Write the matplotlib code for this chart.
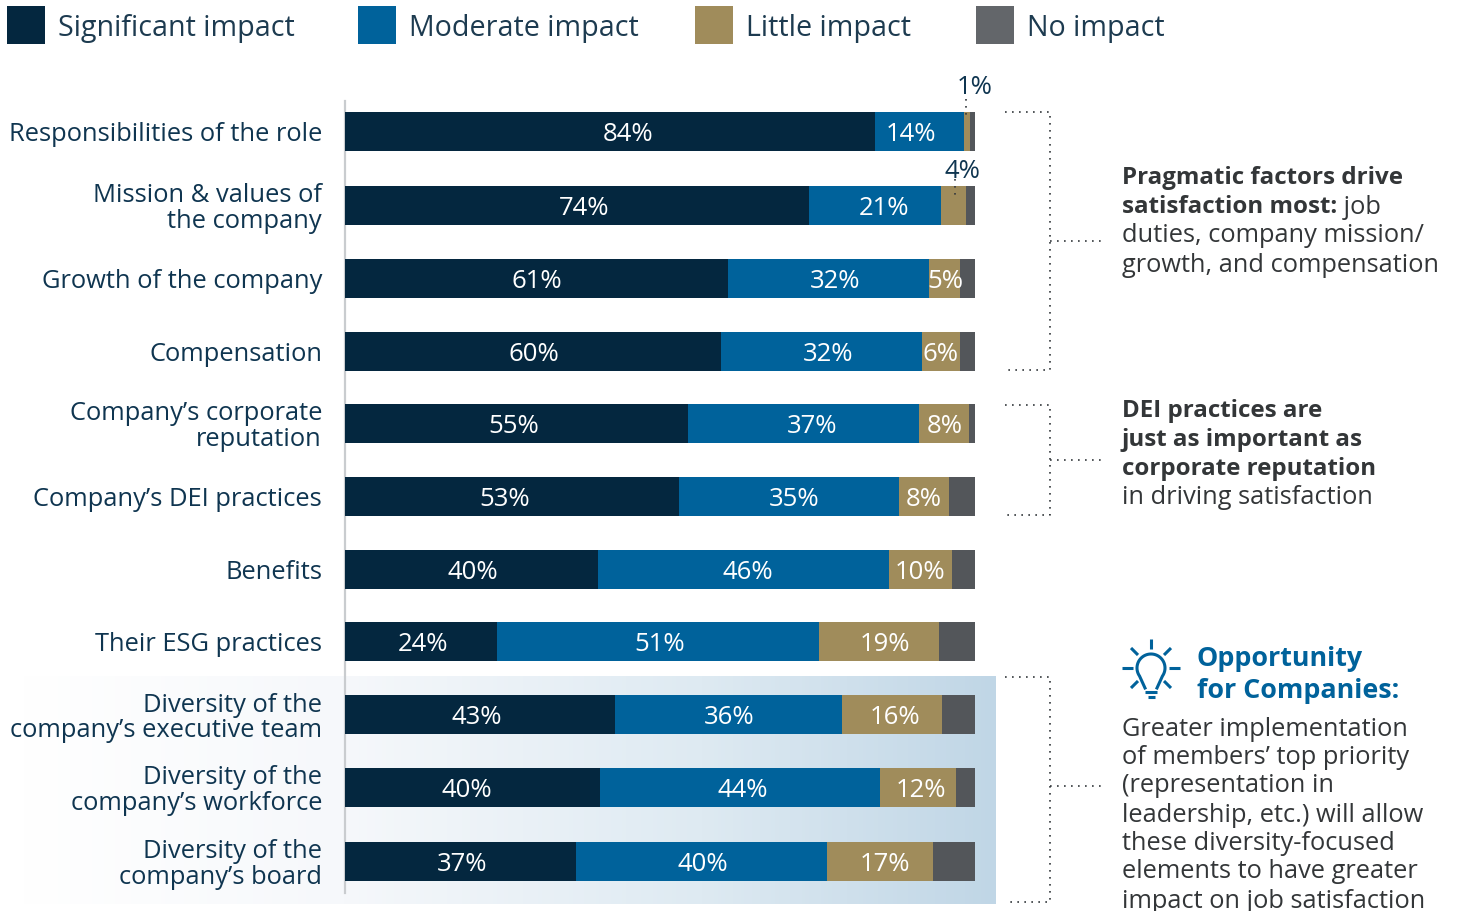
import numpy as np
import matplotlib
matplotlib.use("Agg")
import matplotlib.pyplot as plt
from matplotlib.colors import LinearSegmentedColormap

plt.rcParams['font.family'] = ['Open Sans', 'DejaVu Sans']

categories = ["Responsibilities of the role", "Mission & values of\nthe company",
              "Growth of the company", "Compensation",
              "Company’s corporate\nreputation", "Company’s DEI practices", "Benefits",
              "Their ESG practices", "Diversity of the\ncompany’s executive team",
              "Diversity of the\ncompany’s workforce", "Diversity of the\ncompany’s board"]
significant = [84, 74, 61, 60, 55, 53, 40, 24, 43, 40, 37]
moderate = [14, 21, 32, 32, 37, 35, 46, 51, 36, 44, 40]
little = [1, 4, 5, 6, 8, 8, 10, 19, 16, 12, 17]
# this series has no printed labels, so it is estimated from the segment widths
no_impact = [0.8, 1.5, 2.4, 2.4, 1.0, 4.1, 3.65, 5.7, 5.2, 3.0, 6.7]

# row centres in pixels from the top of the page, the spacing is not quite even
row_centres = [131.5, 205.5, 278.5, 351.5, 423.5, 496.5, 569.5, 641.5, 714.5, 787.5, 861.5]

# hand placement of the value labels, in pixels from the segment centre
nudge_significant = [18, 7, 0, 1, -3, -7, 1, 2, -3, -5, 1]
nudge_moderate = [-8, 9, 7, 6, 9, 5, 5, 2, 1, 3, 1]
nudge_little = [0, 0, 1, -1, 1, 0, 0, 6, 3, 3, 5]

series_names = ["Significant impact", "Moderate impact", "Little impact", "No impact"]
bar_colors = ["#04273f", "#00629b", "#a08c5b", "#53565a"]
legend_colors = ["#04273f", "#00629b", "#a08c5b", "#63666a"]
NAVY_TEXT = "#0f3550"
DARK_TEXT = "#333638"
DOTS = "#33383c"

W, H = 1457, 911
BAR_LEFT, BAR_RIGHT = 345, 975
fig = plt.figure(figsize=(W / 100, H / 100), dpi=100)


def px_axes(left, top, right, bottom):
    return fig.add_axes([left / W, 1 - bottom / H, (right - left) / W, (bottom - top) / H])


# page-level layer in pixels, for the gradient band and the notes
page = fig.add_axes([0, 0, 1, 1])
band = LinearSegmentedColormap.from_list(
    "band", [(0, "#ffffff"), (0.33, "#f6f8fb"), (0.7, "#deeaf2"), (1, "#c0d6e6")])
page.imshow(np.linspace(0, 1, 256)[None, :], cmap=band, aspect="auto",
            extent=(20, 996, 904, 676), zorder=0)
page.set_xlim(0, W)
page.set_ylim(H, 0)
page.axis("off")

# stacked bars
ax = px_axes(BAR_LEFT, 101, BAR_RIGHT, 893)
ax.patch.set_alpha(0)
rows = np.array([significant, moderate, little, no_impact], dtype=float)
shares = rows / rows.sum(axis=0) * 100
nudges = [nudge_significant, nudge_moderate, nudge_little]
per_px = 100 / (BAR_RIGHT - BAR_LEFT)
left = np.zeros(len(categories))
for k in range(4):
    ax.barh(row_centres, shares[k], left=left, height=39, color=bar_colors[k], linewidth=0, zorder=3)
    if k < 3:
        for i, yc in enumerate(row_centres):
            if k == 2 and i < 2:
                continue
            ax.text(left[i] + shares[k][i] / 2 + nudges[k][i] * per_px, yc, f"{rows[k][i]:.0f}%",
                    color="white", ha="center", va="center_baseline", fontsize=18.5, zorder=4)
    left += shares[k]

ax.set_xlim(0, 100)
ax.set_ylim(893, 101)
ax.set_xticks([])
ax.set_yticks(row_centres, categories)
ax.tick_params(axis="y", length=0, pad=16.5, labelsize=18.4, labelcolor=NAVY_TEXT)
for lab in ax.get_yticklabels():
    lab.set_linespacing(1.01)
    lab.set_verticalalignment("center_baseline")
for s in ["top", "right", "bottom"]:
    ax.spines[s].set_visible(False)
ax.spines["left"].set_color("#c9cccf")
ax.spines["left"].set_linewidth(1.6)

# legend
for name, col, x0 in zip(series_names, legend_colors, [7, 358, 695, 976]):
    page.fill_between([x0, x0 + 38], 6, 44, color=col, linewidth=0)
    page.text(x0 + 51, 25, name, fontsize=20.6, color="#1d3b50", va="center_baseline", ha="left")

# small segments labelled above the bars
dotted = dict(color=DOTS, lw=1.2, linestyle=(0, (1, 3.2)))
top = fig.add_axes([0, 0, 1, 1])
top.set_xlim(0, W)
top.set_ylim(H, 0)
top.axis("off")
top.text(975, 85, "1%", fontsize=18.5, color=NAVY_TEXT, ha="center", va="center_baseline")
top.text(962, 168, "4%", fontsize=18.5, color=NAVY_TEXT, ha="center", va="center_baseline")
top.plot([966, 966], [99, 120], **dotted)
top.plot([955, 955], [179, 200], **dotted)

# brackets tying rows to the notes
for y0, y1, stem in [(112, 370, 241), (405, 515, 460), (677, 902, 786)]:
    top.plot([1005, 1050, 1050, 1005], [y0, y0, y1, y1], **dotted)
    top.plot([1050, 1101], [stem, stem], **dotted)

renderer = fig.canvas.get_renderer()


def note_line(x, yc, bold, plain=""):
    cursor = x
    if bold:
        t = top.text(cursor, yc, bold, fontsize=17.4, fontweight="bold", color=DARK_TEXT,
                     va="center_baseline", ha="left")
        cursor += t.get_window_extent(renderer).width
    if plain:
        top.text(cursor, yc, plain, fontsize=18.3, color=DARK_TEXT, va="center_baseline", ha="left")


note_line(1122, 175, "Pragmatic factors drive")
note_line(1122, 204, "satisfaction most:", " job")
note_line(1122, 233, "", "duties, company mission/")
note_line(1122, 262, "", "growth, and compensation")

note_line(1122, 408, "DEI practices are")
note_line(1122, 437, "just as important as")
note_line(1122, 466, "corporate reputation")
note_line(1122, 495, "", "in driving satisfaction")

top.text(1197, 656, "Opportunity", fontsize=19.4, fontweight="bold", color="#00629b",
         va="center_baseline", ha="left")
top.text(1197, 688, "for Companies:", fontsize=19.4, fontweight="bold", color="#00629b",
         va="center_baseline", ha="left")

body = ["Greater implementation", "of members’ top priority", "(representation in",
        "leadership, etc.) will allow", "these diversity-focused",
        "elements to have greater", "impact on job satisfaction"]
for line, yc in zip(body, [726, 754, 783, 812, 841, 869, 898]):
    note_line(1122, yc, "", line)

# light bulb icon
blue = dict(color="#00629b", lw=2.2, solid_capstyle="butt")
for x0, y0, x1, y1 in [(1151, 639, 1151, 649), (1122, 668, 1133, 668), (1169, 668, 1180, 668),
                       (1131, 648, 1138, 655), (1171, 648, 1164, 655),
                       (1131, 688, 1138, 681), (1171, 688, 1164, 681),
                       (1145, 692, 1157, 692), (1148, 697, 1155, 697)]:
    top.plot([x0, x1], [y0, y1], **blue)
ang = np.radians(np.linspace(215, -35, 60))
bx = 1151 + 14 * np.cos(ang)
by = 668 - 14 * np.sin(ang)
top.plot(np.r_[1145, bx, 1157], np.r_[688, by, 688], color="#00629b", lw=2.2)

fig.savefig("out.png", dpi=100)
